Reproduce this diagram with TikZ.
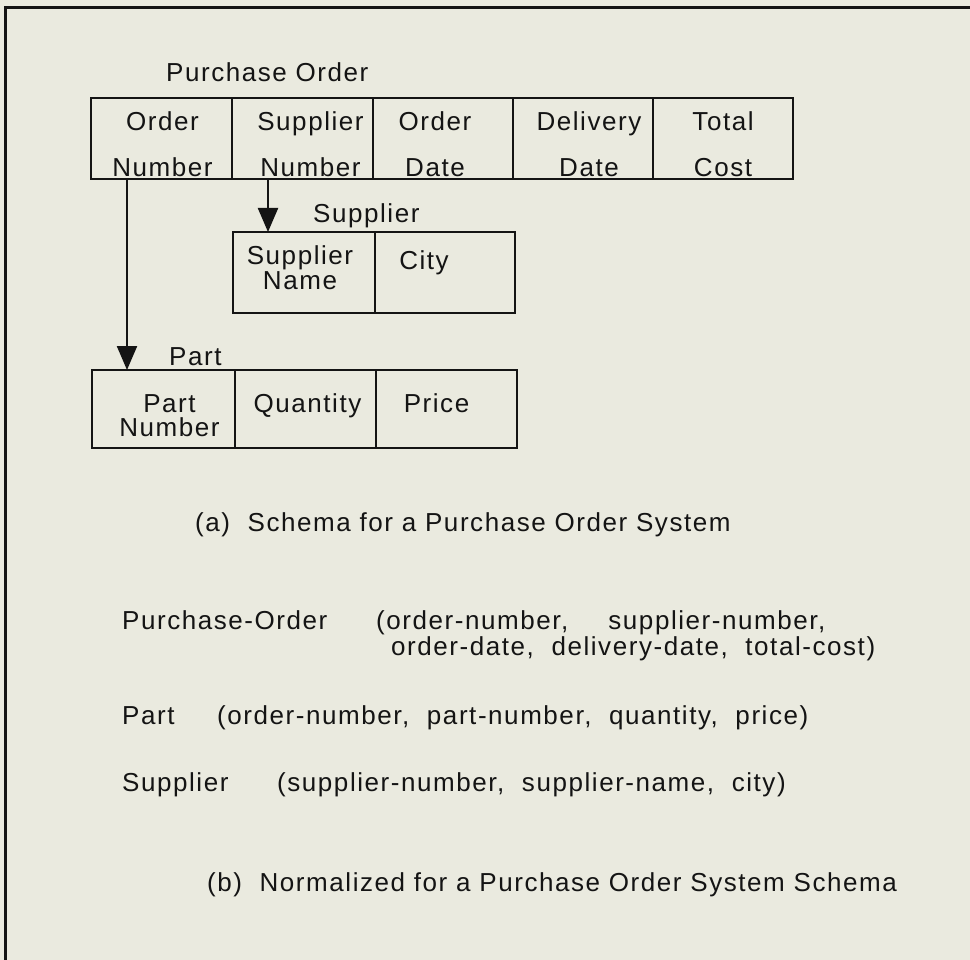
\documentclass[tikz,border=0pt]{standalone}
\usepackage{fontspec}
\setmainfont{Liberation Sans}[LetterSpace=6]
\usepackage{tikz}
\usetikzlibrary{arrows.meta,positioning}
\definecolor{paper}{HTML}{EAEADF}
\definecolor{ink}{HTML}{141414}

\begin{document}
\begin{tikzpicture}[x=1pt, y=-1pt, font=\fontsize{26}{30}\selectfont, text=ink,
  cell/.style={draw=ink, line width=2.8pt, outer sep=0pt, inner sep=0pt},
  fld/.style={inner sep=0pt, align=center},
  txt/.style={anchor=base west, inner sep=0pt},
  link/.style={draw=ink, line width=2.2pt, -{Triangle[width=20pt,length=24pt]}}]
\fill[paper] (0,0) rectangle (970,960);
\useasboundingbox (0,0) rectangle (970,960);
\draw[ink, line width=3pt] (5,960) -- (5,7.5) -- (970,7.5);

% purchase order table
\node[cell, minimum width=141pt, minimum height=81pt, anchor=north west] (po1) at (91,98) {};
\node[cell, minimum width=141pt, minimum height=81pt, right=0pt of po1] (po2) {};
\node[cell, minimum width=140pt, minimum height=81pt, right=0pt of po2] (po3) {};
\node[cell, minimum width=140pt, minimum height=81pt, right=0pt of po3] (po4) {};
\node[cell, minimum width=140pt, minimum height=81pt, right=0pt of po4] (po5) {};
\node[txt] (po-name) at ([xshift=75pt, yshift=16pt]po1.north west) {Purchase Order};

% supplier table
\node[cell, minimum width=142pt, minimum height=81pt, anchor=north west] (sp1) at (233,232) {};
\node[cell, minimum width=140pt, minimum height=81pt, right=0pt of sp1] (sp2) {};
\node[txt] (sp-name) at ([xshift=80pt, yshift=9pt]sp1.north west) {Supplier};

% part table
\node[cell, minimum width=143pt, minimum height=78pt, anchor=north west] (pt1) at (92,370) {};
\node[cell, minimum width=141pt, minimum height=78pt, right=0pt of pt1] (pt2) {};
\node[cell, minimum width=141pt, minimum height=78pt, right=0pt of pt2] (pt3) {};
\node[txt] (pt-name) at ([xshift=77pt, yshift=4pt]pt1.north west) {Part};

\foreach \c/\t/\dx/\dy in {po1/{Order\\[16pt]Number}/1/-6, po2/{Supplier\\[16pt]Number}/8/-6,
    po3/{Order\\[16pt]Date}/-8/-6, po4/{Delivery\\[16pt]Date}/6/-6, po5/{Total\\[16pt]Cost}/0/-6,
    sp1/{Supplier\\[-5pt]Name}/-4/5, sp2/{City}/-21/10,
    pt1/{Part\\[-6pt]Number}/6/-7, pt2/{Quantity}/2/3.5, pt3/{Price}/-10/6}
  \node[fld, xshift=\dx pt, yshift=\dy pt] (\c-t) at (\c) {\t};

% keys
\coordinate (po1-key) at ([xshift=36pt]po1.south west);
\coordinate (po2-key) at ([xshift=36pt]po2.south west);
\draw[link] (po1-key) -- (po1-key |- pt1.north);
\draw[link] (po2-key) -- (po2-key |- sp1.north);

\node[txt] (cap-a) at (195,531) {(a)\ \ Schema for a Purchase Order System};

% normalized relations
\node[txt] (po-rel) at (122,629) {Purchase-Order};
\node[txt] (po-attr) at (376,629) {(order-number,\hspace{40pt}supplier-number,};
\node[txt] (po-attr2) at (391,655) {order-date,\ \ delivery-date,\ \ total-cost)};
\node[txt] (pt-rel) at (122,724) {Part};
\node[txt] (pt-attr) at (217,724) {(order-number,\ \ part-number,\ \ quantity,\ \ price)};
\node[txt] (sp-rel) at (122,791) {Supplier};
\node[txt] (sp-attr) at (277,791) {(supplier-number,\ \ supplier-name,\ \ city)};

\node[txt] (cap-b) at (207,891) {(b)\ \ Normalized for a Purchase Order System Schema};
\end{tikzpicture}
\end{document}
